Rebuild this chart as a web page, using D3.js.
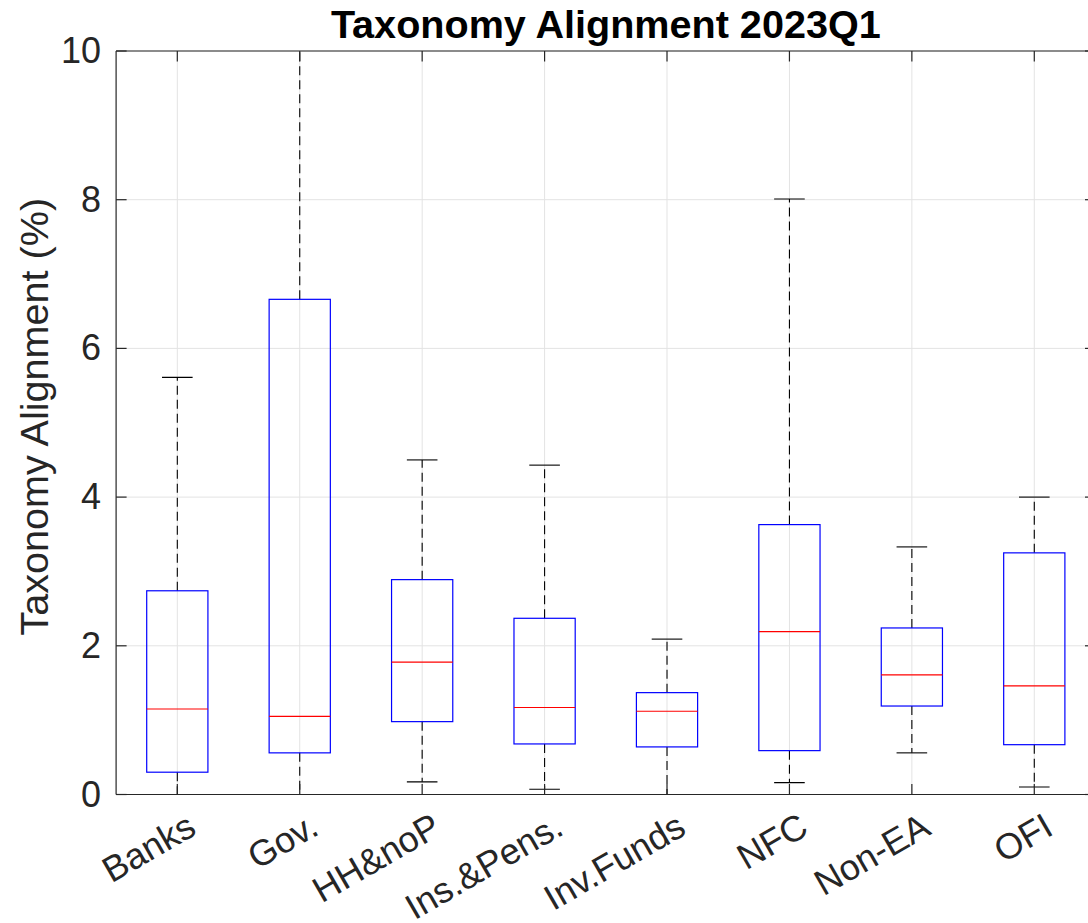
<!DOCTYPE html>
<html>
<head>
<meta charset="utf-8">
<script src="https://cdn.jsdelivr.net/npm/d3@7"></script>
<style>
  html, body { margin: 0; padding: 0; background: #fff; }
  svg { display: block; font-family: "Liberation Sans", Arial, Helvetica, sans-serif; }
</style>
</head>
<body>
<svg id="chart" width="1088" height="923"></svg>
<script>
// Sector groups and their box-plot statistics (Taxonomy Alignment, %)
const categories = ["Banks", "Gov.", "HH&noP", "Ins.&Pens.", "Inv.Funds", "NFC", "Non-EA", "OFI"];
const whiskerLow  = [0.00, 0.00, 0.17, 0.07, 0.00, 0.16, 0.56, 0.10];
const quartile1   = [0.30, 0.56, 0.98, 0.68, 0.64, 0.59, 1.19, 0.67];
const medians     = [1.15, 1.05, 1.78, 1.17, 1.12, 2.19, 1.61, 1.46];
const quartile3   = [2.74, 6.66, 2.89, 2.37, 1.37, 3.63, 2.24, 3.25];
const whiskerHigh = [5.61, 11.6, 4.50, 4.43, 2.09, 8.01, 3.33, 4.00];
const yTicks = [0, 2, 4, 6, 8, 10];

const titleText = "Taxonomy Alignment 2023Q1";
const yLabelText = "Taxonomy Alignment (%)";

const svg = d3.select("#chart");
const plotLeft = 116.1, plotRight = 1095.5, plotTop = 51, plotBottom = 794.5;

const x = d3.scaleLinear().domain([0.5, categories.length + 0.5]).range([plotLeft, plotRight]);
const y = d3.scaleLinear().domain([0, 10]).range([plotBottom, plotTop]);

const axisColor = "#262626";
const gridColor = "#e3e3e3";

// clip region for the plotting area
svg.append("defs").append("clipPath").attr("id", "plotClip")
  .append("rect").attr("x", plotLeft).attr("y", plotTop)
  .attr("width", plotRight - plotLeft).attr("height", plotBottom - plotTop);

// grid lines
const grid = svg.append("g");
grid.selectAll("line.h").data(yTicks).join("line").attr("class", "h")
  .attr("x1", plotLeft).attr("x2", plotRight)
  .attr("y1", d => y(d)).attr("y2", d => y(d))
  .attr("stroke", gridColor).attr("stroke-width", 1);
grid.selectAll("line.v").data(categories).join("line").attr("class", "v")
  .attr("x1", (d, i) => x(i + 1)).attr("x2", (d, i) => x(i + 1))
  .attr("y1", plotTop).attr("y2", plotBottom)
  .attr("stroke", gridColor).attr("stroke-width", 1);

// per-group statistics
const stats = categories.map((c, i) => ({
  name: c, pos: i + 1,
  lo: whiskerLow[i], q1: quartile1[i], med: medians[i], q3: quartile3[i], hi: whiskerHigh[i]
}));

const boxHalf = 0.25, capHalf = 0.125;
const plot = svg.append("g").attr("clip-path", "url(#plotClip)");

const g = plot.selectAll("g.box").data(stats).join("g").attr("class", "box");

// whiskers (dashed)
g.append("line")
  .attr("x1", d => x(d.pos)).attr("x2", d => x(d.pos))
  .attr("y1", d => y(d.q3)).attr("y2", d => y(d.hi))
  .attr("stroke", "#000").attr("stroke-width", 1.1).attr("stroke-dasharray", "9,5");
g.append("line")
  .attr("x1", d => x(d.pos)).attr("x2", d => x(d.pos))
  .attr("y1", d => y(d.q1)).attr("y2", d => y(d.lo))
  .attr("stroke", "#000").attr("stroke-width", 1.1).attr("stroke-dasharray", "9,5");

// whisker caps
["lo", "hi"].forEach(k => {
  g.append("line")
    .attr("x1", d => x(d.pos - capHalf)).attr("x2", d => x(d.pos + capHalf))
    .attr("y1", d => y(d[k])).attr("y2", d => y(d[k]))
    .attr("stroke", "#000").attr("stroke-width", 1.1);
});

// interquartile boxes
g.append("rect")
  .attr("x", d => x(d.pos - boxHalf))
  .attr("width", d => x(d.pos + boxHalf) - x(d.pos - boxHalf))
  .attr("y", d => y(d.q3))
  .attr("height", d => y(d.q1) - y(d.q3))
  .attr("fill", "none").attr("stroke", "#0000ff").attr("stroke-width", 1.2);

// medians
g.append("line")
  .attr("x1", d => x(d.pos - boxHalf)).attr("x2", d => x(d.pos + boxHalf))
  .attr("y1", d => y(d.med)).attr("y2", d => y(d.med))
  .attr("stroke", "#ff0000").attr("stroke-width", 1.2);

// axes frame
const frame = svg.append("g").attr("stroke", axisColor).attr("stroke-width", 1.2).attr("fill", "none");
frame.append("line").attr("x1", plotLeft).attr("x2", plotRight).attr("y1", plotTop).attr("y2", plotTop);
frame.append("line").attr("x1", plotLeft).attr("x2", plotRight).attr("y1", plotBottom).attr("y2", plotBottom);
frame.append("line").attr("x1", plotLeft).attr("x2", plotLeft).attr("y1", plotTop).attr("y2", plotBottom);
frame.append("line").attr("x1", plotRight).attr("x2", plotRight).attr("y1", plotTop).attr("y2", plotBottom);

// tick marks (inward) on all four sides
const tickLen = 10.5;
yTicks.forEach(t => {
  frame.append("line").attr("x1", plotLeft).attr("x2", plotLeft + tickLen).attr("y1", y(t)).attr("y2", y(t));
  frame.append("line").attr("x1", plotRight).attr("x2", plotRight - tickLen).attr("y1", y(t)).attr("y2", y(t));
});
categories.forEach((c, i) => {
  frame.append("line").attr("x1", x(i + 1)).attr("x2", x(i + 1)).attr("y1", plotTop).attr("y2", plotTop + tickLen);
  frame.append("line").attr("x1", x(i + 1)).attr("x2", x(i + 1)).attr("y1", plotBottom).attr("y2", plotBottom - tickLen);
});

// y-axis tick labels
const yAxis = d3.axisLeft(y).tickValues(yTicks).tickSize(0).tickPadding(15).tickFormat(d3.format("d"));
const yAxisG = svg.append("g").attr("transform", `translate(${plotLeft},0)`).call(yAxis);
yAxisG.select(".domain").remove();
yAxisG.selectAll("text")
  .attr("font-size", 36).attr("fill", axisColor)
  .attr("font-family", "'Liberation Sans', Arial, Helvetica, sans-serif");

// x-axis tick labels, rotated
const xAxis = d3.axisBottom(x).tickValues(d3.range(1, categories.length + 1))
  .tickSize(0).tickFormat(d => categories[d - 1]);
const xAxisG = svg.append("g").attr("transform", `translate(0,${plotBottom})`).call(xAxis);
xAxisG.select(".domain").remove();
xAxisG.selectAll("text")
  .attr("font-size", 36).attr("fill", axisColor)
  .attr("font-family", "'Liberation Sans', Arial, Helvetica, sans-serif")
  .attr("text-anchor", "end")
  .attr("y", 0).attr("dy", "0.35em")
  .attr("transform", "translate(14,28) rotate(-30)");

// title
svg.append("text")
  .attr("x", (plotLeft + plotRight) / 2).attr("y", 38)
  .attr("text-anchor", "middle")
  .attr("font-size", 39.6).attr("font-weight", "bold").attr("fill", "#000")
  .text(titleText);

// y-axis label
svg.append("text")
  .attr("transform", `translate(48,${(plotTop + plotBottom) / 2 - 6}) rotate(-90)`)
  .attr("text-anchor", "middle")
  .attr("font-size", 39.6).attr("fill", axisColor)
  .text(yLabelText);
</script>
</body>
</html>
